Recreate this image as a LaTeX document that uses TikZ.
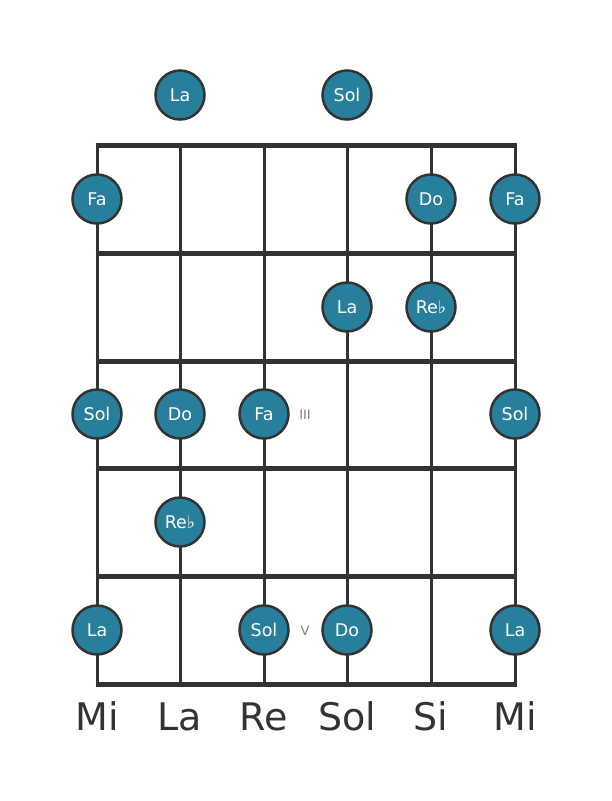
\documentclass[tikz,border=0pt]{standalone}
\usepackage{fontspec}
\setmainfont{DejaVu Sans}
\definecolor{dotc}{RGB}{40,127,155}
\definecolor{linec}{RGB}{51,51,51}
\definecolor{numc}{RGB}{130,130,130}
\begin{document}
\begin{tikzpicture}[x=1pt,y=-1pt,
  fret/.style={draw=linec,line width=5pt},
  str/.style={draw=linec,line width=3pt},
  note/.style={circle,fill=dotc,draw=linec,line width=2.5pt,minimum size=49pt,inner sep=0pt,text=white,font=\fontsize{17.5}{17.5}\selectfont},
  sname/.style={text=linec,font=\fontsize{38}{38}\selectfont,anchor=base},
  fnum/.style={text=numc,font=\fontsize{13}{13}\selectfont}]
\useasboundingbox (0,0) rectangle (611,801);
% strings
\foreach \i/\x in {1/97,2/180,3/264,4/347,5/431,6/515}{
  \coordinate (s\i t) at (\x,145);
  \coordinate (s\i b) at (\x,684);
  \draw[str] (s\i t) -- (s\i b);
}
% frets
\foreach \j/\y in {0/145,1/253,2/361,3/468,4/576,5/684}{
  \coordinate (f\j l) at (95.5,\y);
  \coordinate (f\j r) at (516.5,\y);
  \draw[fret] (f\j l) -- (f\j r);
}
% notes
\node[note] (o2) at (180,95) {La};
\node[note] (o4) at (347,95) {Sol};
\node[note] (n11) at (97,199) {Fa};
\node[note] (n15) at (431,199) {Do};
\node[note] (n16) at (515,199) {Fa};
\node[note] (n24) at (347,307) {La};
\node[note] (n25) at (431,307) {Re♭};
\node[note] (n31) at (97,414) {Sol};
\node[note] (n32) at (180,414) {Do};
\node[note] (n33) at (264,414) {Fa};
\node[note] (n36) at (515,414) {Sol};
\node[note] (n42) at (180,522) {Re♭};
\node[note] (n51) at (97,630) {La};
\node[note] (n53) at (264,630) {Sol};
\node[note] (n54) at (347,630) {Do};
\node[note] (n56) at (515,630) {La};
% fret numbers
\node[fnum] (r3) at (305,415) {III};
\node[fnum] (r5) at (305,631) {V};
% string names
\foreach \i/\x/\t in {1/97/Mi,2/180/La,3/264/Re,4/347/Sol,5/431/Si,6/515/Mi}{
  \node[sname] (l\i) at (\x,730) {\t};
}
\end{tikzpicture}
\end{document}
